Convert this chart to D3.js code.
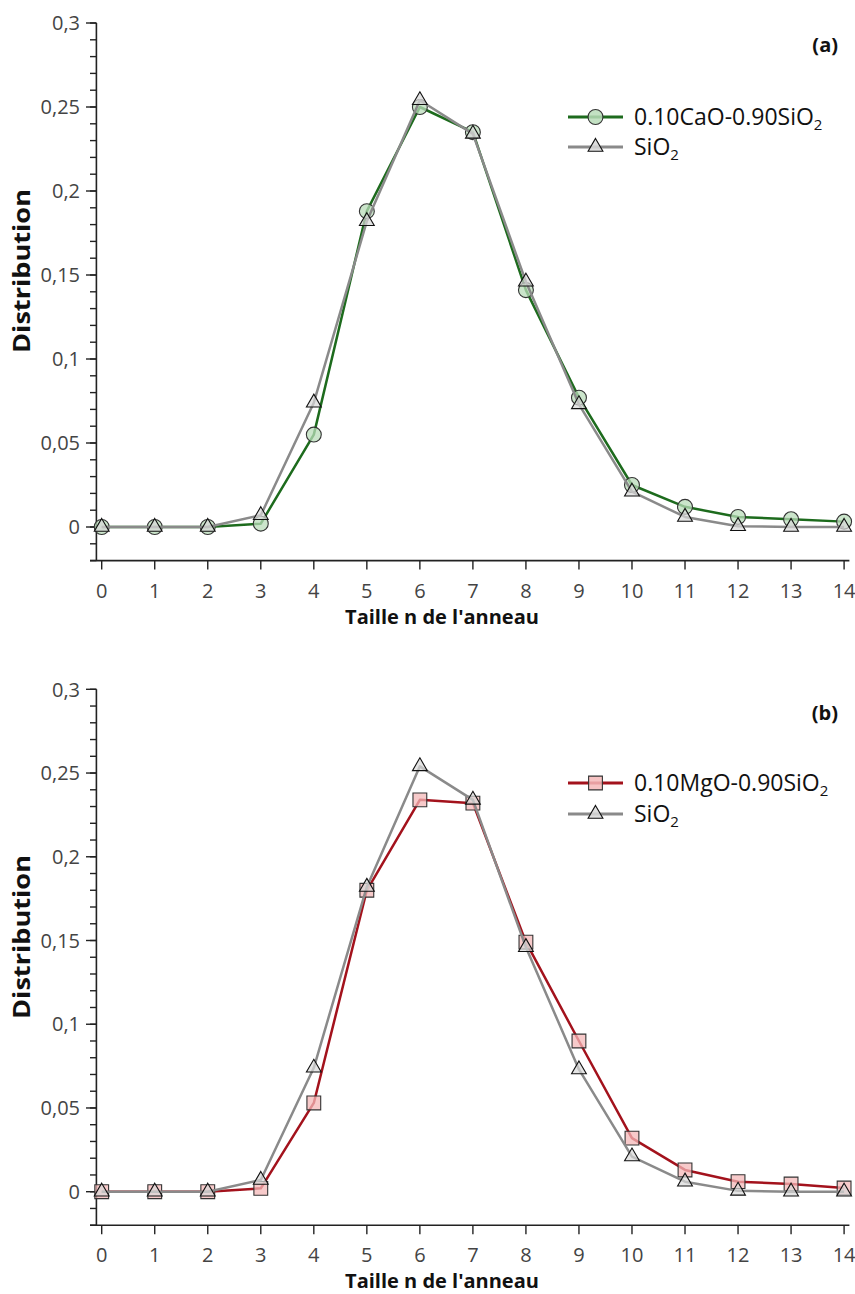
<!DOCTYPE html>
<html>
<head>
<meta charset="utf-8">
<script src="https://cdn.jsdelivr.net/npm/d3@7"></script>
<style>
  body { margin: 0; background: #fff; }
  svg { display: block; }
  text { font-family: "Open Sans", "DejaVu Sans", sans-serif; }
</style>
</head>
<body>
<svg id="chart" width="855" height="1294"></svg>
<script>
// ---- data ----
const ringSizes = [0, 1, 2, 3, 4, 5, 6, 7, 8, 9, 10, 11, 12, 13, 14];
const sio2Values = [0, 0, 0, 0.007, 0.074, 0.182, 0.254, 0.234, 0.146, 0.073, 0.021, 0.006, 0.0005, 0, 0];
const caoValues  = [0, 0, 0, 0.002, 0.055, 0.188, 0.250, 0.235, 0.141, 0.077, 0.025, 0.012, 0.006, 0.0046, 0.0032];
const mgoValues  = [0, 0, 0, 0.002, 0.053, 0.180, 0.234, 0.232, 0.149, 0.090, 0.032, 0.013, 0.006, 0.0046, 0.0022];
const yMajorTicks = [0, 0.05, 0.1, 0.15, 0.2, 0.25, 0.3];
const yTickLabels = ["0", "0,05", "0,1", "0,15", "0,2", "0,25", "0,3"];
const xTicks = ringSizes;
const xTitle = "Taille n de l'anneau";
const yTitle = "Distribution";

const svg = d3.select("#chart");

function drawPanel(cfg) {
  const g = svg.append("g");
  const x = d3.scaleLinear().domain([-0.1, 14.1]).range([96.4, 849.4]);
  const y = d3.scaleLinear().domain([-0.02, 0.3]).range([cfg.yBottom, cfg.yTop]);

  const minor = d3.range(-2, 31).map(d => d / 100);
  g.selectAll(".ymin").data(minor).enter().append("line")
    .attr("x1", 90).attr("x2", 96.4)
    .attr("y1", d => y(d)).attr("y2", d => y(d))
    .attr("stroke", "#222").attr("stroke-width", 1.4);
  g.selectAll(".ymaj").data(yMajorTicks).enter().append("line")
    .attr("x1", 86).attr("x2", 96.4)
    .attr("y1", d => y(d)).attr("y2", d => y(d))
    .attr("stroke", "#222").attr("stroke-width", 1.4);
  g.selectAll(".ylab").data(yMajorTicks).enter().append("text")
    .attr("x", 80).attr("y", d => y(d)).attr("dy", "0.36em")
    .attr("text-anchor", "end").attr("font-size", 20).attr("fill", "#444")
    .text((d, i) => yTickLabels[i]);
  g.append("line").attr("x1", 96.4).attr("x2", 96.4)
    .attr("y1", y(0.3)).attr("y2", y(-0.02))
    .attr("stroke", "#222").attr("stroke-width", 1.6);
  g.append("line").attr("x1", 90).attr("x2", 849.4)
    .attr("y1", y(-0.02)).attr("y2", y(-0.02))
    .attr("stroke", "#222").attr("stroke-width", 1.6);
  g.selectAll(".xt").data(xTicks).enter().append("line")
    .attr("x1", d => x(d)).attr("x2", d => x(d))
    .attr("y1", y(-0.02)).attr("y2", y(-0.02) + 9)
    .attr("stroke", "#222").attr("stroke-width", 1.4);
  g.selectAll(".xl").data(xTicks).enter().append("text")
    .attr("x", d => x(d)).attr("y", y(-0.02) + 30)
    .attr("dy", "0.36em")
    .attr("text-anchor", "middle").attr("font-size", 20).attr("fill", "#444")
    .text(d => d);

  g.append("text").attr("x", 442).attr("y", y(-0.02) + 56)
    .attr("dy", "0.36em").attr("text-anchor", "middle")
    .attr("font-size", 20).attr("font-weight", "bold").attr("fill", "#111")
    .text(xTitle);
  g.append("text")
    .attr("transform", `translate(21,${cfg.yTitleCenter}) rotate(-90)`)
    .attr("dy", "0.36em").attr("text-anchor", "middle")
    .attr("font-size", 24).attr("font-weight", "bold").attr("fill", "#111")
    .attr("textLength", 164).attr("lengthAdjust", "spacingAndGlyphs")
    .text(yTitle);
  g.append("text").attr("x", 838).attr("y", cfg.labelY)
    .attr("dy", "0.36em").attr("text-anchor", "end")
    .attr("font-size", 20).attr("font-weight", "bold").attr("fill", "#111")
    .text(cfg.label);

  const line = d3.line().x((d, i) => x(ringSizes[i])).y(d => y(d));

  g.append("path").datum(cfg.values).attr("d", line)
    .attr("fill", "none").attr("stroke", cfg.color).attr("stroke-width", 2.5)
    .attr("stroke-linejoin", "round");
  const sym = d3.symbol().type(cfg.symbol).size(cfg.symbolSize);
  g.selectAll(".m").data(cfg.values).enter().append("path")
    .attr("d", sym)
    .attr("transform", (d, i) => `translate(${x(ringSizes[i])},${y(d)})`)
    .attr("fill", cfg.fill).attr("fill-opacity", 0.75)
    .attr("stroke", "#333").attr("stroke-width", 1.1);

  g.append("path").datum(sio2Values).attr("d", line)
    .attr("fill", "none").attr("stroke", "#8a8a8a").attr("stroke-width", 2.5)
    .attr("stroke-linejoin", "round");
  const tri = d3.symbol().type(d3.symbolTriangle).size(95);
  g.selectAll(".t").data(sio2Values).enter().append("path")
    .attr("d", tri)
    .attr("transform", (d, i) => `translate(${x(ringSizes[i])},${y(d)})`)
    .attr("fill", "#d8d8d8").attr("fill-opacity", 0.7)
    .attr("stroke", "#111").attr("stroke-width", 1.1);

  const lg = g.append("g");
  const rows = [
    { y: cfg.legendY[0], color: cfg.color, symbol: cfg.symbol, size: cfg.symbolSize, fill: cfg.fill, stroke: "#333", name: cfg.name },
    { y: cfg.legendY[1], color: "#8a8a8a", symbol: d3.symbolTriangle, size: 95, fill: "#d8d8d8", stroke: "#111", name: "SiO" }
  ];
  rows.forEach(r => {
    lg.append("line").attr("x1", 568).attr("x2", 623)
      .attr("y1", r.y).attr("y2", r.y)
      .attr("stroke", r.color).attr("stroke-width", 3);
    lg.append("path").attr("d", d3.symbol().type(r.symbol).size(r.size)())
      .attr("transform", `translate(595.5,${r.y})`)
      .attr("fill", r.fill).attr("fill-opacity", 0.85)
      .attr("stroke", r.stroke).attr("stroke-width", 1.1);
    const t = lg.append("text").attr("x", 634).attr("y", r.y).attr("dy", "0.36em")
      .attr("font-size", 23).attr("fill", "#111");
    t.append("tspan").text(r.name);
    t.append("tspan").attr("font-size", 15).attr("dy", 5).text("2");
  });
}

drawPanel({
  yTop: 23, yBottom: 560.6, yTitleCenter: 271, label: "(a)", labelY: 45,
  values: caoValues, color: "#1d6b1d", fill: "#b9dcb9",
  symbol: d3.symbolCircle, symbolSize: 175,
  name: "0.10CaO-0.90SiO", legendY: [117, 147]
});
drawPanel({
  yTop: 689.3, yBottom: 1225.2, yTitleCenter: 937, label: "(b)", labelY: 713,
  values: mgoValues, color: "#a3121c", fill: "#f4b8b8",
  symbol: d3.symbolSquare, symbolSize: 190,
  name: "0.10MgO-0.90SiO", legendY: [783, 814]
});
</script>
</body>
</html>
